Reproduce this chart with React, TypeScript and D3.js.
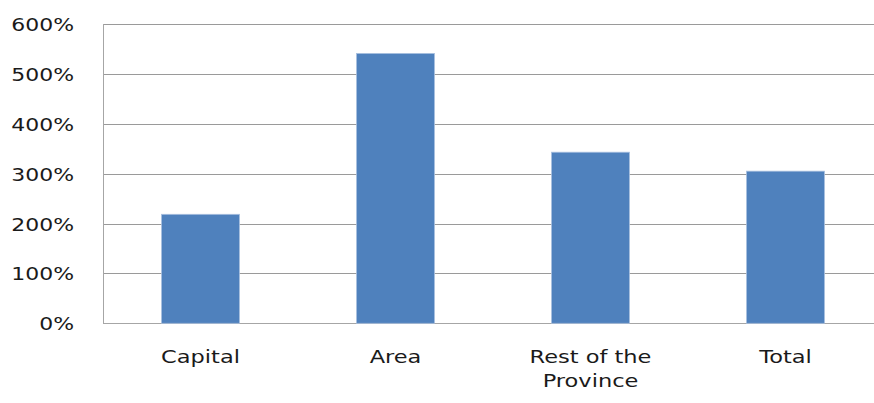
import React from "react";
import * as d3 from "d3";

const categories: string[][] = [["Capital"], ["Area"], ["Rest of the", "Province"], ["Total"]];
const values: number[] = [2.185, 5.41, 3.43, 3.05];
const yTicks: number[] = [0, 1, 2, 3, 4, 5, 6];

const W = 874;
const H = 403;

export default function App() {
  const keys = categories.map((c) => c.join(" "));
  const x = d3.scaleBand<string>().domain(keys).range([103, 883]).padding(0);
  const y = d3.scaleLinear().domain([0, 6]).range([323.3, 24]);
  const fmt = d3.format(".0%");
  const barW = x.bandwidth() * 0.4;
  const font = "'DejaVu Sans', sans-serif";

  return (
    <svg
      width={W}
      height={H}
      style={{ position: "fixed", left: 0, top: 0, background: "#fff" }}
      fontFamily={font}
    >
      <rect x={0} y={0} width={W} height={H} fill="#fff" />
      {yTicks.map((t) => (
        <line
          key={"g" + t}
          x1={103}
          x2={W}
          y1={Math.round(y(t)) + 0.5}
          y2={Math.round(y(t)) + 0.5}
          stroke={t === 0 ? "#a6a6a6" : "#9a9a9a"}
          strokeWidth={1}
        />
      ))}
      <line x1={103.5} x2={103.5} y1={24} y2={324} stroke="#a6a6a6" strokeWidth={1} />
      {values.map((v, i) => {
        const cx = (x(keys[i]) as number) + x.bandwidth() / 2;
        return (
          <rect
            key={"b" + i}
            x={cx - barW / 2}
            y={y(v)}
            width={barW}
            height={y(0) - y(v)}
            fill="#4F81BD"
            stroke="#a9c0df"
            strokeWidth={0.8}
          />
        );
      })}
      {yTicks.map((t) => (
        <text
          key={"t" + t}
          transform={`translate(74,${y(t) + 7}) scale(1.22,1)`}
          textAnchor="end"
          fontSize={18}
          fill="#1a1a1a"
        >
          {fmt(t)}
        </text>
      ))}
      {categories.map((lines, i) => {
        const cx = (x(keys[i]) as number) + x.bandwidth() / 2;
        return lines.map((ln, j) => (
          <text
            key={"c" + i + "-" + j}
            transform={`translate(${cx},${363 + j * 24}) scale(1.25,1)`}
            textAnchor="middle"
            fontSize={18}
            fill="#1a1a1a"
          >
            {ln}
          </text>
        ));
      })}
    </svg>
  );
}
